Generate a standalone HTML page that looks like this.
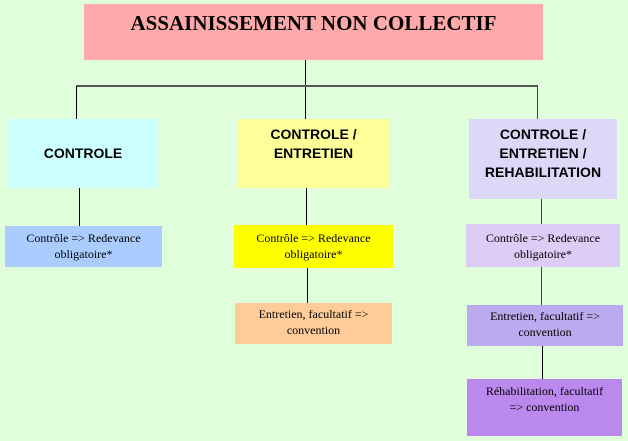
<!DOCTYPE html>
<html><head><meta charset="utf-8"><style>
body{margin:0;width:628px;height:441px;background:#e0fedc;position:relative;overflow:hidden}
.b{position:absolute;display:flex;flex-direction:column;align-items:center;justify-content:center;text-align:center;box-sizing:border-box}
.h{font-family:"Liberation Sans",sans-serif;font-weight:bold;font-size:14px;line-height:19px;color:#000}
.s{font-family:"Liberation Serif",serif;font-size:12px;line-height:16px;color:#000}
.l{position:absolute;background:#000}
</style></head><body>
<div class="b" style="left:84px;top:4px;width:459px;height:56px;background:#ffaaaa;justify-content:flex-start;padding-top:7px;font-family:'Liberation Serif',serif;font-weight:bold;font-size:21px;">ASSAINISSEMENT NON COLLECTIF</div>
<div class="l" style="left:305px;top:60px;width:1px;height:60px"></div>
<div class="l" style="left:76px;top:85px;width:462px;height:2px;background:#555"></div>
<div class="l" style="left:76px;top:86px;width:1px;height:33px"></div>
<div class="l" style="left:537px;top:86px;width:1px;height:33px;background:#444"></div>

<div class="b h" style="left:8px;top:119px;width:150px;height:69px;background:#ccffff">CONTROLE</div>
<div class="b h" style="left:238px;top:119px;width:151px;height:69px;background:#ffff99;justify-content:flex-start;padding-top:6px">CONTROLE /<br>ENTRETIEN</div>
<div class="b h" style="left:469px;top:119px;width:148px;height:80px;background:#ddd8f8;justify-content:flex-start;padding-top:6px">CONTROLE /<br>ENTRETIEN /<br>REHABILITATION</div>

<div class="l" style="left:79px;top:188px;width:1px;height:38px"></div>
<div class="l" style="left:306px;top:188px;width:1px;height:37px"></div>
<div class="l" style="left:541px;top:199px;width:1px;height:25px;background:#444"></div>

<div class="b s" style="left:5px;top:226px;width:157px;height:41px;background:#aaccff;justify-content:flex-start;padding-top:4px">Contrôle =&gt; Redevance<br>obligatoire*</div>
<div class="b s" style="left:234px;top:225px;width:159px;height:43px;background:#ffff00;justify-content:flex-start;padding-top:5px">Contrôle =&gt; Redevance<br>obligatoire*</div>
<div class="b s" style="left:466px;top:224px;width:154px;height:43px;background:#dcccf6;justify-content:flex-start;padding-top:6px">Contrôle =&gt; Redevance<br>obligatoire*</div>

<div class="l" style="left:307px;top:268px;width:1px;height:35px"></div>
<div class="l" style="left:541px;top:267px;width:1px;height:38px;background:#444"></div>

<div class="b s" style="left:235px;top:303px;width:157px;height:41px;background:#ffcc99;justify-content:flex-start;padding-top:3px">Entretien, facultatif =&gt;<br>convention</div>
<div class="b s" style="left:467px;top:305px;width:156px;height:41px;background:#bbaaee;justify-content:flex-start;padding-top:3px">Entretien, facultatif =&gt;<br>convention</div>

<div class="l" style="left:542px;top:346px;width:1px;height:33px"></div>
<div class="b s" style="left:467px;top:379px;width:155px;height:57px;background:#bb88ee;justify-content:flex-start;padding-top:4px">Réhabilitation, facultatif<br>=&gt; convention</div>
</body></html>
